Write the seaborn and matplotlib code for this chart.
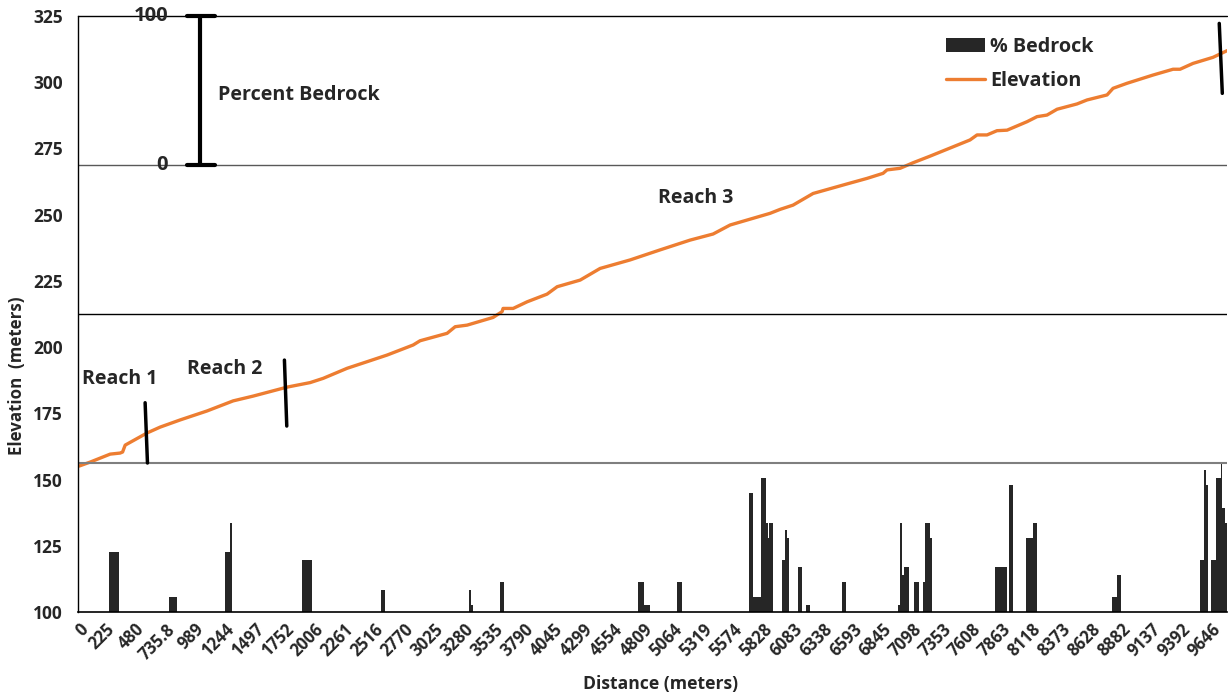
import matplotlib
matplotlib.use('Agg')
import matplotlib.pyplot as plt
import seaborn as sns
import numpy as np

# elevation profile (distance m, elevation m)
elev_dist = [0, 94, 264, 349, 370, 392, 579, 690, 860, 1090, 1312, 1482, 1772, 1968,
             2079, 2283, 2454, 2624, 2846, 2905, 3135, 3204, 3306, 3527, 3604, 3612,
             3698, 3817, 3987, 4073, 4269, 4439, 4694, 4950, 5206, 5402, 5547, 5887,
             5973, 6083, 6254, 6543, 6714, 6850, 6884, 6995, 7106, 7251, 7591, 7651,
             7736, 7821, 7907, 8077, 8162, 8247, 8333, 8503, 8588, 8759, 8810, 8929,
             9150, 9321, 9381, 9491, 9662, 9781]
elev_m = [155.1, 156.6, 159.6, 160.0, 160.4, 163.0, 167.6, 169.8, 172.5, 175.9, 179.7,
          181.5, 184.9, 186.6, 188.2, 192.0, 194.5, 197.0, 200.8, 202.4, 205.2, 207.7,
          208.3, 211.2, 213.4, 214.6, 214.6, 217.1, 220.0, 222.8, 225.3, 229.7, 232.9,
          236.7, 240.4, 242.7, 246.1, 250.5, 252.0, 253.6, 258.0, 261.6, 263.7, 265.6,
          266.9, 267.5, 269.6, 272.1, 278.2, 280.1, 280.1, 281.7, 281.9, 285.1, 287.0,
          287.6, 289.8, 291.8, 293.3, 295.2, 297.7, 299.6, 302.7, 304.9, 304.9, 307.1,
          309.4, 311.9]

# percent bedrock bars (segment start m, segment width m, percent)
bar_start = [253, 767, 1244, 1287, 1900, 2573, 3323, 3340, 3587, 4763, 4814, 5095,
             5708, 5742, 5777, 5811, 5853, 5870, 5879, 5990, 6015, 6032, 6126, 6194,
             6501, 6978, 6995, 7012, 7029, 7114, 7191, 7208, 7251, 7804, 7924, 8068,
             8128, 8801, 8844, 9551, 9585, 9602, 9645, 9687, 9730, 9738, 9764]
bar_width = [85, 68, 43, 13, 85, 34, 17, 17, 34, 51, 51, 43,
             34, 34, 34, 43, 17, 9, 34, 26, 17, 17, 34, 34,
             34, 17, 17, 17, 43, 43, 17, 43, 17, 102, 34, 60,
             34, 43, 34, 34, 17, 17, 43, 43, 9, 26, 17]
bar_pct = [40, 10, 40, 60, 35, 15, 15, 5, 20, 20, 5, 20,
           80, 10, 10, 90, 60, 50, 60, 35, 55, 50, 30, 5,
           20, 5, 60, 25, 30, 20, 20, 60, 50, 30, 85, 50,
           60, 10, 25, 35, 95, 85, 35, 90, 100, 70, 60]

tick_vals = [0, 225, 480, 735.8, 989, 1244, 1497, 1752, 2006, 2261, 2516, 2770, 3025,
             3280, 3535, 3790, 4045, 4299, 4554, 4809, 5064, 5319, 5574, 5828, 6083,
             6338, 6593, 6845, 7098, 7353, 7608, 7863, 8118, 8373, 8628, 8882, 9137,
             9392, 9646]
tick_labels = ['0', '225', '480', '735.8', '989', '1244', '1497', '1752', '2006', '2261',
               '2516', '2770', '3025', '3280', '3535', '3790', '4045', '4299', '4554',
               '4809', '5064', '5319', '5574', '5828', '6083', '6338', '6593', '6845',
               '7098', '7353', '7608', '7863', '8118', '8373', '8628', '8882', '9137',
               '9392', '9646']

# reach break marks (x0, x1, y0, y1)
reach_marks = [(562, 582, 179.0, 156.25), (1749, 1769, 195.1, 170.2), (9715, 9741, 322.2, 295.8)]

sns.set_theme(style='white')
plt.rcParams['font.family'] = ['Open Sans', 'DejaVu Sans']
plt.rcParams['font.weight'] = 'bold'

band = 56.25  # 100 % bedrock in elevation units
base = 100

fig = plt.figure(figsize=(12.28, 6.98), dpi=100)
ax = fig.add_axes([78 / 1228, 1 - 612 / 698, 1149 / 1228, 596 / 698])

bars = ax.bar(bar_start, [p * band / 100 for p in bar_pct], width=bar_width, bottom=base,
              align='edge', color='#262626', linewidth=0, label='% Bedrock')
sns.lineplot(x=elev_dist, y=elev_m, ax=ax, color='#ED7D31', lw=2.4, label='Elevation')

# band separator lines
ax.axhline(325, color='black', lw=1, clip_on=False)
ax.axhline(268.75, color='#595959', lw=1)
ax.axhline(212.5, color='black', lw=1)
ax.axhline(156.25, color='#7f7f7f', lw=1.5)

for x0, x1, y0, y1 in reach_marks:
    ax.plot([x0, x1], [y0, y1], color='black', lw=2.5, clip_on=False)

# percent bedrock scale bar
sx = 1031
ax.plot([sx, sx], [268.75, 325], color='black', lw=3, clip_on=False)
ax.plot([920, 1159], [325, 325], color='black', lw=3, clip_on=False)
ax.plot([920, 1159], [268.75, 268.75], color='black', lw=3, clip_on=False)
ax.text(758, 325, '100', ha='right', va='center', fontsize=14.5, fontweight='bold')
ax.text(758, 268.75, '0', ha='right', va='center', fontsize=14.5, fontweight='bold')
ax.text(1184, 295.2, 'Percent Bedrock', ha='left', va='center', fontsize=14.2, fontweight='bold')

ax.text(26, 188, 'Reach 1', ha='left', va='center', fontsize=14, fontweight='bold')
ax.text(920, 191.7, 'Reach 2', ha='left', va='center', fontsize=14, fontweight='bold')
ax.text(4933, 256.3, 'Reach 3', ha='left', va='center', fontsize=14, fontweight='bold')

ax.set_xlim(-10, 9781)
ax.set_ylim(100, 325)
ax.set_yticks(np.arange(100, 326, 25))
ax.set_xticks(tick_vals)
ax.set_xticklabels(tick_labels, rotation=45, ha='right', rotation_mode='anchor')
ax.tick_params(axis='y', direction='out', length=6, width=1, color='black', labelsize=12.5, pad=5)
ax.tick_params(axis='x', length=0, labelsize=12, pad=6)
for lab in ax.get_xticklabels() + ax.get_yticklabels():
    lab.set_fontweight('bold')

for s in ['top', 'right']:
    ax.spines[s].set_visible(False)
ax.spines['left'].set_color('black')
ax.spines['bottom'].set_color('black')
ax.spines['left'].set_linewidth(1)
ax.spines['bottom'].set_linewidth(1.2)

ax.set_ylabel('Elevation  (meters)', fontsize=12.2, fontweight='bold')
ax.yaxis.set_label_coords(-0.045, 0.396)
ax.set_xlabel('Distance (meters)', fontsize=12.6, fontweight='bold')
ax.xaxis.set_label_coords(0.507, -0.106)

handles, labels = ax.get_legend_handles_labels()
order = [labels.index('% Bedrock'), labels.index('Elevation')]
ax.legend([handles[i] for i in order], [labels[i] for i in order],
          loc='upper left', bbox_to_anchor=(0.74, 0.995), frameon=False,
          handlelength=2.0, handletextpad=0.25, labelspacing=0.7,
          prop={'weight': 'bold', 'size': 14.2})

fig.savefig('out.png', dpi=100)
plt.close(fig)
